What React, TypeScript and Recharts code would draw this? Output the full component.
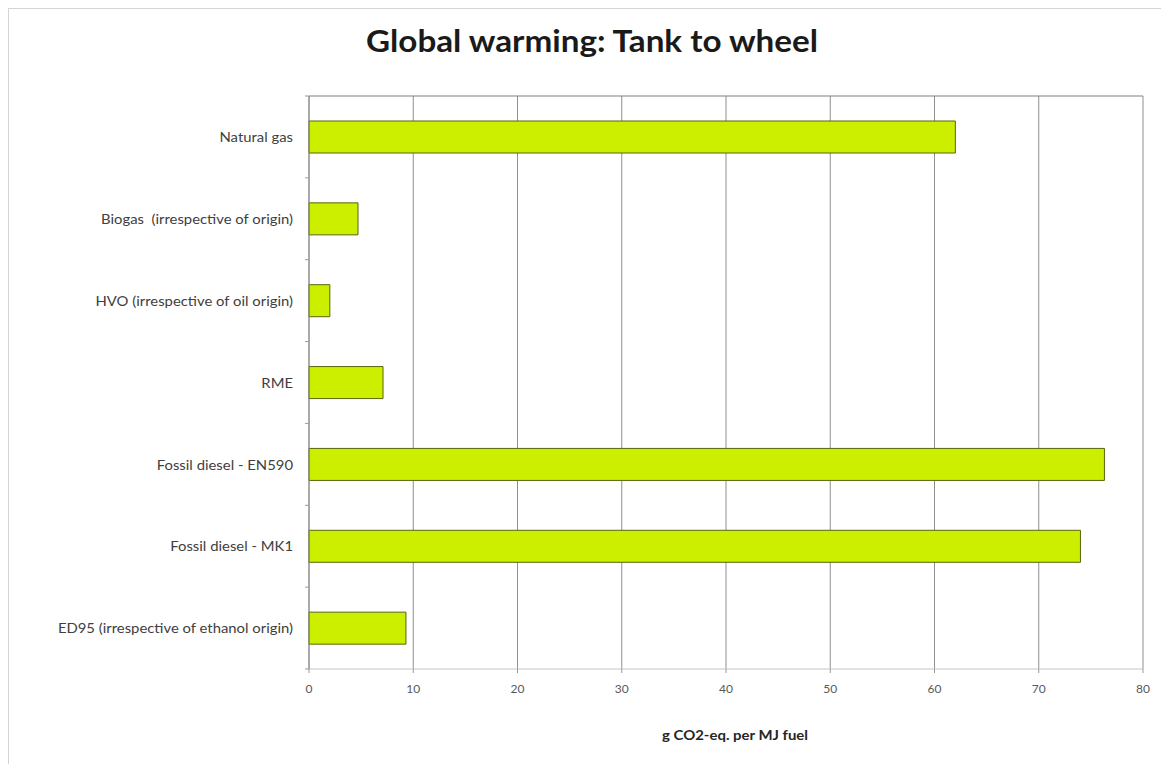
import React from 'react';
import { BarChart, Bar, XAxis, YAxis, CartesianGrid, Label } from 'recharts';

// Fuel pathways, top to bottom as they appear on the category axis
const fuels = [
  'Natural gas',
  'Biogas  (irrespective of origin)',
  'HVO (irrespective of oil origin)',
  'RME',
  'Fossil diesel - EN590',
  'Fossil diesel - MK1',
  'ED95 (irrespective of ethanol origin)',
];

// Tank-to-wheel emissions, g CO2-eq. per MJ fuel
const emissions = [62.0, 4.7, 2.0, 7.1, 76.3, 74.0, 9.3];

const xTicks = [0, 10, 20, 30, 40, 50, 60, 70, 80];

const data = fuels.map((name, i) => ({ name, value: emissions[i] }));

const CHART_W = 1153;
const CHART_H = 755;
const MARGIN = { top: 86, right: 19, bottom: 0, left: 0 };
const TOP_AXIS_H = 1;
const X_AXIS_H = 95;
const Y_AXIS_W = 300;
const PLOT_H = CHART_H - MARGIN.top - TOP_AXIS_H - X_AXIS_H;
const BAND = PLOT_H / fuels.length;
const FONT = 'Lato, "Open Sans", sans-serif';

// Category label plus small tick marks at the band boundaries
const CategoryTick = (props: any) => {
  const { x, y, payload, index } = props;
  const axisX = x + 16;
  return (
    <g>
      <text
        transform={`translate(${x},${y}) scale(1.1,1)`}
        x={0}
        y={0}
        textAnchor="end"
        dominantBaseline="central"
        fontSize={13.5}
        fontFamily={FONT}
        fill="#404040"
        style={{ whiteSpace: 'pre' }}
      >
        {payload.value}
      </text>
      {index === 0 && (
        <line x1={axisX - 4} x2={axisX} y1={y - BAND / 2} y2={y - BAND / 2} stroke="#9a9a9a" />
      )}
      <line x1={axisX - 4} x2={axisX} y1={y + BAND / 2} y2={y + BAND / 2} stroke="#9a9a9a" />
    </g>
  );
};

// Axis title, centred a little right of the plot's middle
const AxisTitle = (props: any) => {
  const { viewBox } = props;
  const cx = viewBox.x + viewBox.width / 2 + 9;
  const baseline = viewBox.y + viewBox.height - 24;
  return (
    <text
      x={cx}
      y={baseline}
      textAnchor="middle"
      fontSize={13}
      fontWeight={700}
      fontFamily={FONT}
      fill="#262626"
      textLength={146}
      lengthAdjust="spacingAndGlyphs"
    >
      g CO2-eq. per MJ fuel
    </text>
  );
};

export default function App() {
  return (
    <div
      style={{
        position: 'relative',
        width: CHART_W,
        height: 760,
        border: '1px solid #d4d4d4',
        background: '#fff',
        fontFamily: FONT,
      }}
    >
      <svg
        width={CHART_W}
        height={70}
        style={{ position: 'absolute', left: 0, top: 0, pointerEvents: 'none' }}
      >
        <text
          x={583}
          y={43}
          textAnchor="middle"
          fontFamily={FONT}
          fontWeight={700}
          fontSize={30}
          fill="#1a1a1a"
          textLength={452}
          lengthAdjust="spacingAndGlyphs"
        >
          Global warming: Tank to wheel
        </text>
      </svg>
      <BarChart width={CHART_W} height={CHART_H} data={data} layout="vertical" margin={MARGIN}>
        <CartesianGrid horizontal={false} stroke="#8f8f8f" />
        <XAxis
          type="number"
          domain={[0, 80]}
          ticks={xTicks}
          height={X_AXIS_H}
          tickSize={4}
          tickMargin={11}
          axisLine={{ stroke: '#c4c4c4' }}
          tickLine={{ stroke: '#9a9a9a' }}
          tick={{ fontSize: 12, fill: '#595959', fontFamily: FONT }}
        >
          <Label content={AxisTitle} />
        </XAxis>
        <XAxis
          xAxisId="top"
          orientation="top"
          type="number"
          domain={[0, 80]}
          height={TOP_AXIS_H}
          ticks={xTicks}
          tick={false}
          tickLine={false}
          axisLine={{ stroke: '#7f7f7f' }}
        />
        <YAxis
          type="category"
          dataKey="name"
          width={Y_AXIS_W}
          tickSize={4}
          tickMargin={12}
          tickLine={false}
          axisLine={{ stroke: '#8c8c8c' }}
          tick={CategoryTick}
          interval={0}
        />
        <Bar
          dataKey="value"
          fill="#ccef00"
          stroke="#56660a"
          strokeWidth={1}
          barSize={32}
          isAnimationActive={false}
        />
      </BarChart>
    </div>
  );
}
